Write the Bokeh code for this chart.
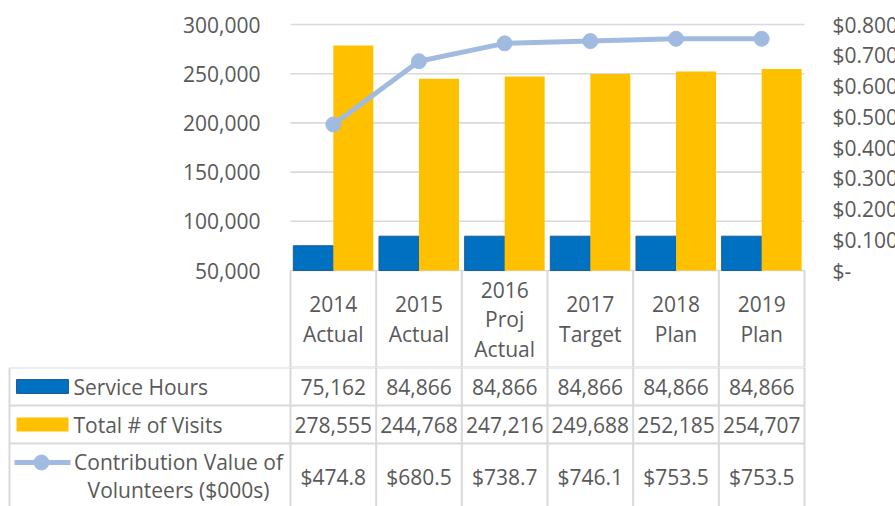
import numpy as np
from bokeh.plotting import figure
from bokeh.layouts import column
from bokeh.models import (ColumnDataSource, Range1d, LinearAxis, FixedTicker,
                          NumeralTickFormatter, CustomJSTickFormatter)
from bokeh.transform import dodge
from bokeh.core.properties import value
from bokeh.embed import file_html
from bokeh.resources import INLINE

# ---------------- data ----------------
categories = ["2014\nActual", "2015\nActual", "2016\nProj\nActual", "2017\nTarget", "2018\nPlan", "2019\nPlan"]
service_hours = [75162, 84866, 84866, 84866, 84866, 84866]
total_visits = [278555, 244768, 247216, 249688, 252185, 254707]
contribution_k = [474.8, 680.5, 738.7, 746.1, 753.5, 753.5]   # $000s
series_names = ["Service Hours", "Total # of Visits", "Contribution Value of\nVolunteers ($000s)"]
left_ticks = [50000, 100000, 150000, 200000, 250000, 300000]
right_ticks = [0.0, 0.1, 0.2, 0.3, 0.4, 0.5, 0.6, 0.7, 0.8]

# ---------------- style / layout (px) ----------------
FONT = "Open Sans"
FS = "21px"
TXT = "#595959"
GRID = "#d9d9d9"
BLUE = "#0070c0"
BLUE_EDGE = "#1f5c99"
GOLD = "#ffc000"
LINE = "#a1bbe0"

W = 895
PLOT_L, PLOT_R = 290, 804      # plot area left/right
PLOT_T, PLOT_B = 24, 270       # plot area top (300k) / bottom (50k)
HDR_B = 367                    # bottom of header row of the table
H_TOTAL = 506
n = len(categories)
COL_W = (PLOT_R - PLOT_L) / n
X_RANGE = (-PLOT_L / COL_W, (W - PLOT_L) / COL_W)

def px2x(px):
    return (px - PLOT_L) / COL_W

y0, y1 = left_ticks[0], left_ticks[-1]
per_px = (y1 - y0) / (PLOT_B - PLOT_T)
r1 = right_ticks[-1]
rper_px = r1 / (PLOT_B - PLOT_T)

# ================= chart + header row =================
p = figure(width=W, height=HDR_B,
           x_range=Range1d(*X_RANGE),
           y_range=Range1d(y0 - (HDR_B - PLOT_B) * per_px, y1 + PLOT_T * per_px),
           output_backend="svg", toolbar_location=None, x_axis_location=None,
           min_border=0, outline_line_color=None)
p.extra_y_ranges = {"val": Range1d(-(HDR_B - PLOT_B) * rper_px, r1 + PLOT_T * rper_px),
                    "hdr": Range1d(HDR_B - PLOT_B, -PLOT_B)}
p.grid.visible = False

xc = np.arange(n) + 0.5
src = ColumnDataSource(dict(xc=xc, hours=service_hours, visits=total_visits,
                            contrib=[v / 1000 for v in contribution_k]))

# horizontal gridlines at the left-axis ticks
p.segment(x0=[0] * len(left_ticks), y0=left_ticks, x1=[n] * len(left_ticks), y1=left_ticks,
          line_color=GRID, line_width=1.6)

p.vbar(x=dodge("xc", -0.2335), top="hours", bottom=y0, width=0.467,
       source=src, fill_color=BLUE, line_color=BLUE_EDGE, line_width=1)
p.vbar(x=dodge("xc", 0.2335), top="visits", bottom=y0, width=0.467,
       source=src, fill_color=GOLD, line_color=None)
p.line("xc", "contrib", source=src, y_range_name="val", line_color=LINE, line_width=5)
p.scatter("xc", "contrib", source=src, y_range_name="val", marker="circle", size=15,
          fill_color=LINE, line_color=LINE)

# header row of the data table
HDR_H = HDR_B - PLOT_B
edges = list(range(n + 1))
p.segment(x0=edges, y0=[0] * len(edges), x1=edges, y1=[HDR_H] * len(edges),
          y_range_name="hdr", line_color=GRID, line_width=2)
p.segment(x0=[0], y0=[HDR_H], x1=[n], y1=[HDR_H],
          y_range_name="hdr", line_color=GRID, line_width=2)
LH = 29.5
hx, hy, ht = [], [], []
for i, c in enumerate(categories):
    lines = c.split("\n")
    k = len(lines)
    for j, s in enumerate(lines):
        hx.append(i + 0.5)
        hy.append(HDR_H / 2 + (j - (k - 1) / 2) * LH)
        ht.append(s)
p.text(x=hx, y=hy, text=ht, y_range_name="hdr",
       text_align="center", text_baseline="middle", text_font=value(FONT),
       text_font_size=FS, text_color=TXT)

ax = p.yaxis[0]
ax.ticker = FixedTicker(ticks=left_ticks)
ax.formatter = NumeralTickFormatter(format="0,0")
ax.bounds = (y0, y1)
ax.fixed_location = 0
ra = LinearAxis(y_range_name="val", ticker=FixedTicker(ticks=right_ticks),
                formatter=CustomJSTickFormatter(code="return tick == 0 ? '$-' : '$' + tick.toFixed(3);"),
                bounds=(0, r1), fixed_location=n)
p.add_layout(ra, "right")
for a, st in ((ax, 30), (ra, 28)):
    a.axis_line_color = None
    a.axis_line_alpha = 0
    a.axis_line_width = 0
    a.major_tick_line_color = None
    a.minor_tick_line_color = None
    a.major_tick_in = 0
    a.major_tick_out = 0
    a.minor_tick_in = 0
    a.minor_tick_out = 0
    a.major_label_standoff = st
    a.major_label_text_font = FONT
    a.major_label_text_font_size = FS
    a.major_label_text_color = TXT

# ================= body of the data table =================
BOT_H = H_TOTAL - HDR_B
t = figure(width=W, height=BOT_H,
           x_range=Range1d(*X_RANGE), y_range=Range1d(BOT_H, 0),
           output_backend="svg", toolbar_location=None,
           x_axis_location=None, y_axis_location=None,
           min_border=0, outline_line_color=None)
t.grid.visible = False

xl = px2x(9)
row_y = [0, 38, 76]
t.segment(x0=[xl] * 3, y0=row_y, x1=[n] * 3, y1=row_y, line_color=GRID, line_width=2)
vx = [xl] + edges
t.segment(x0=vx, y0=[0] * len(vx), x1=vx, y1=[BOT_H] * len(vx), line_color=GRID, line_width=2)

tsrc = ColumnDataSource(dict(x=xc,
                             h=[f"{v:,}" for v in service_hours],
                             v=[f"{v:,}" for v in total_visits],
                             c=[f"${v:.1f}" for v in contribution_k]))
common = dict(text_font=value(FONT), text_font_size=FS, text_color=TXT, text_baseline="middle")
t.text(x="x", y=19, text="h", source=tsrc, text_align="center", **common)
t.text(x="x", y=57, text="v", source=tsrc, text_align="center", **common)
t.text(x="x", y=109, text="c", source=tsrc, text_align="center", **common)

# legend keys
t.quad(left=[px2x(16)], right=[px2x(68)], top=[12], bottom=[26], fill_color=BLUE, line_color=BLUE_EDGE)
t.quad(left=[px2x(16)], right=[px2x(68)], top=[50], bottom=[64], fill_color=GOLD, line_color=None)
t.line([px2x(14), px2x(70)], [95, 95], line_color=LINE, line_width=5)
t.scatter([px2x(41)], [95], marker="circle", size=15, fill_color=LINE, line_color=LINE)
t.text(x=[px2x(73)], y=[19], text=[series_names[0]], text_align="left", **common)
t.text(x=[px2x(73)], y=[57], text=[series_names[1]], text_align="left", **common)
leg3 = series_names[2].split("\n")
t.text(x=[px2x(178)] * len(leg3), y=[94 + 28 * j for j in range(len(leg3))], text=leg3,
       text_align="center", **common)

layout = column(p, t)
open("out.html", "w").write(file_html(layout, INLINE))
